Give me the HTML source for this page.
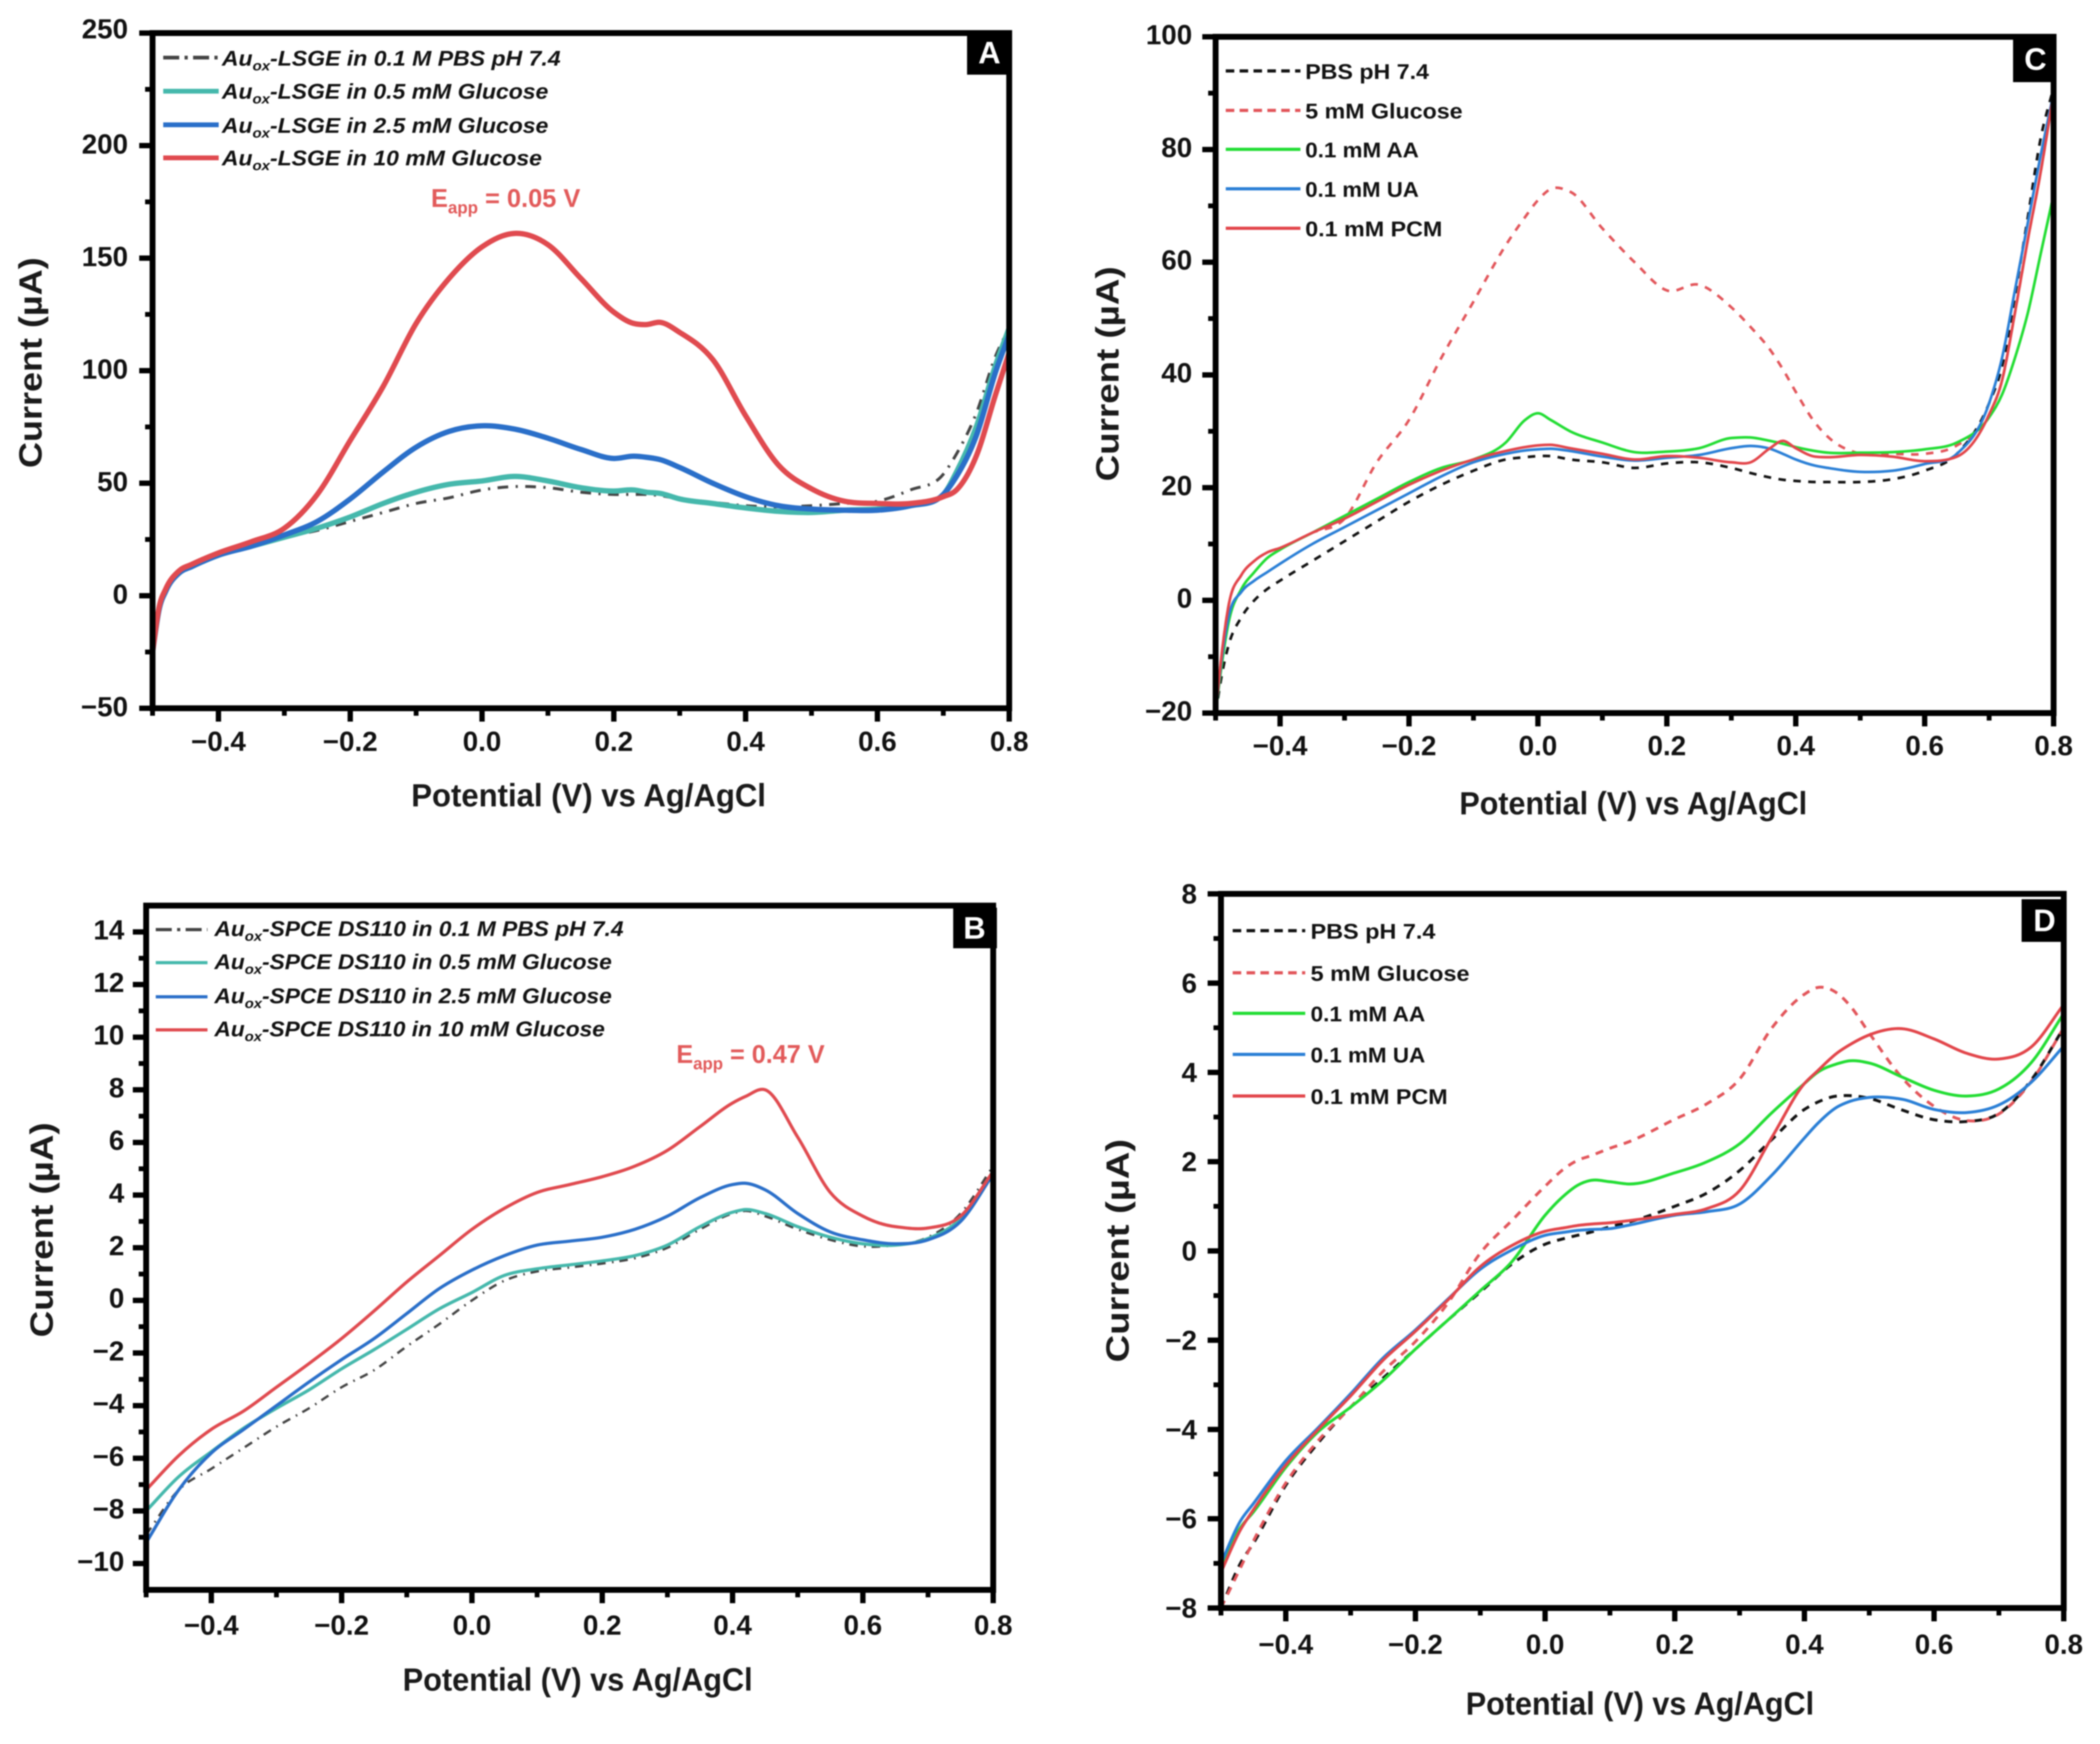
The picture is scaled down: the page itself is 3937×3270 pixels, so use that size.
<!DOCTYPE html>
<html lang="en">
<head>
<meta charset="utf-8">
<title>Electrochemical current vs potential panels A-D</title>
<style>
html,body{margin:0;padding:0;background:#fff;width:3937px;height:3270px;overflow:hidden}
svg{display:block;filter:blur(1.3px)}
text{font-family:"Liberation Sans",sans-serif;font-weight:bold;fill:#111}
.leg{font-size:40px}
.legi{font-size:40px;font-style:italic}
.axt{font-size:60px;fill:#1a1a1a}
.tick{font-size:52px;fill:#111}
.eapp{font-size:48px;fill:#e25a5a}
.pl{font-size:58px;fill:#fff;text-anchor:middle}
</style>
</head>
<body>
<svg id="figure" xmlns="http://www.w3.org/2000/svg" width="3937" height="3270" viewBox="0 0 3937 3270">
<rect width="3937" height="3270" fill="#fff"/>
<g id="plots"></g>

<g>
<text class="axt" transform="translate(78,680) rotate(-90)" text-anchor="middle" textLength="395" lengthAdjust="spacingAndGlyphs">Current (µA)</text>
<text class="axt" x="771" y="1512" textLength="665" lengthAdjust="spacingAndGlyphs">Potential (V) vs Ag/AgCl</text>
<line x1="306" x2="410" y1="108" y2="108" stroke="#444" stroke-width="7" stroke-dasharray="30 10 6 10"/>
<line x1="306" x2="410" y1="171" y2="171" stroke="#45b8ac" stroke-width="9"/>
<line x1="306" x2="410" y1="234" y2="234" stroke="#2a6fc9" stroke-width="9"/>
<line x1="306" x2="410" y1="296" y2="296" stroke="#e04a4f" stroke-width="9"/>
<text class="legi" x="416" y="123" textLength="635" lengthAdjust="spacingAndGlyphs">Au<tspan font-size="26" dy="9">ox</tspan><tspan dy="-9">-LSGE in 0.1 M PBS pH 7.4</tspan></text>
<text class="legi" x="416" y="185" textLength="612" lengthAdjust="spacingAndGlyphs">Au<tspan font-size="26" dy="9">ox</tspan><tspan dy="-9">-LSGE in 0.5 mM Glucose</tspan></text>
<text class="legi" x="416" y="249" textLength="612" lengthAdjust="spacingAndGlyphs">Au<tspan font-size="26" dy="9">ox</tspan><tspan dy="-9">-LSGE in 2.5 mM Glucose</tspan></text>
<text class="legi" x="416" y="310" textLength="600" lengthAdjust="spacingAndGlyphs">Au<tspan font-size="26" dy="9">ox</tspan><tspan dy="-9">-LSGE in 10 mM Glucose</tspan></text>
<text class="eapp" x="808" y="388" textLength="280" lengthAdjust="spacingAndGlyphs">E<tspan font-size="32" dy="12">app</tspan><tspan dy="-12"> = 0.05 V</tspan></text>
</g>

<g>
<text class="axt" transform="translate(99,2306) rotate(-90)" text-anchor="middle" textLength="403" lengthAdjust="spacingAndGlyphs">Current (µA)</text>
<text class="axt" x="755" y="3170" textLength="656" lengthAdjust="spacingAndGlyphs">Potential (V) vs Ag/AgCl</text>
<line x1="292" x2="389" y1="1743" y2="1743" stroke="#444" stroke-width="6" stroke-dasharray="30 10 6 10"/>
<line x1="292" x2="389" y1="1805" y2="1805" stroke="#45b8ac" stroke-width="6"/>
<line x1="292" x2="389" y1="1869" y2="1869" stroke="#2a6fc9" stroke-width="6"/>
<line x1="292" x2="389" y1="1931" y2="1931" stroke="#e04a4f" stroke-width="6"/>
<text class="legi" x="402" y="1755" textLength="767" lengthAdjust="spacingAndGlyphs">Au<tspan font-size="26" dy="9">ox</tspan><tspan dy="-9">-SPCE DS110 in 0.1 M PBS pH 7.4</tspan></text>
<text class="legi" x="402" y="1817" textLength="745" lengthAdjust="spacingAndGlyphs">Au<tspan font-size="26" dy="9">ox</tspan><tspan dy="-9">-SPCE DS110 in 0.5 mM Glucose</tspan></text>
<text class="legi" x="402" y="1881" textLength="745" lengthAdjust="spacingAndGlyphs">Au<tspan font-size="26" dy="9">ox</tspan><tspan dy="-9">-SPCE DS110 in 2.5 mM Glucose</tspan></text>
<text class="legi" x="402" y="1943" textLength="732" lengthAdjust="spacingAndGlyphs">Au<tspan font-size="26" dy="9">ox</tspan><tspan dy="-9">-SPCE DS110 in 10 mM Glucose</tspan></text>
<text class="eapp" x="1268" y="1993" textLength="278" lengthAdjust="spacingAndGlyphs">E<tspan font-size="32" dy="12">app</tspan><tspan dy="-12"> = 0.47 V</tspan></text>
</g>

<g>
<text class="axt" transform="translate(2097,701) rotate(-90)" text-anchor="middle" textLength="403" lengthAdjust="spacingAndGlyphs">Current (µA)</text>
<text class="axt" x="2736" y="1527" textLength="652" lengthAdjust="spacingAndGlyphs">Potential (V) vs Ag/AgCl</text>
<line x1="2298" x2="2438" y1="133" y2="133" stroke="#111" stroke-width="6" stroke-dasharray="16 10"/>
<line x1="2298" x2="2438" y1="207" y2="207" stroke="#e2555a" stroke-width="6" stroke-dasharray="16 10"/>
<line x1="2298" x2="2438" y1="280" y2="280" stroke="#22dd33" stroke-width="6"/>
<line x1="2298" x2="2438" y1="354" y2="354" stroke="#2a7fd6" stroke-width="6"/>
<line x1="2298" x2="2438" y1="428" y2="428" stroke="#e2454a" stroke-width="6"/>
<text class="leg" x="2447" y="148" textLength="232" lengthAdjust="spacingAndGlyphs">PBS pH 7.4</text>
<text class="leg" x="2447" y="222" textLength="295" lengthAdjust="spacingAndGlyphs">5 mM Glucose</text>
<text class="leg" x="2447" y="295" textLength="213" lengthAdjust="spacingAndGlyphs">0.1 mM AA</text>
<text class="leg" x="2447" y="369" textLength="213" lengthAdjust="spacingAndGlyphs">0.1 mM UA</text>
<text class="leg" x="2447" y="443" textLength="257" lengthAdjust="spacingAndGlyphs">0.1 mM PCM</text>
</g>

<g>
<text class="axt" transform="translate(2116,2345) rotate(-90)" text-anchor="middle" textLength="419" lengthAdjust="spacingAndGlyphs">Current (µA)</text>
<text class="axt" x="2748" y="3215" textLength="653" lengthAdjust="spacingAndGlyphs">Potential (V) vs Ag/AgCl</text>
<line x1="2311" x2="2447" y1="1745" y2="1745" stroke="#111" stroke-width="6" stroke-dasharray="16 10"/>
<line x1="2311" x2="2447" y1="1824" y2="1824" stroke="#e2555a" stroke-width="6" stroke-dasharray="16 10"/>
<line x1="2311" x2="2447" y1="1900" y2="1900" stroke="#22dd33" stroke-width="6"/>
<line x1="2311" x2="2447" y1="1977" y2="1977" stroke="#2a7fd6" stroke-width="6"/>
<line x1="2311" x2="2447" y1="2055" y2="2055" stroke="#e2454a" stroke-width="6"/>
<text class="leg" x="2457" y="1760" textLength="234" lengthAdjust="spacingAndGlyphs">PBS pH 7.4</text>
<text class="leg" x="2457" y="1839" textLength="298" lengthAdjust="spacingAndGlyphs">5 mM Glucose</text>
<text class="leg" x="2457" y="1915" textLength="215" lengthAdjust="spacingAndGlyphs">0.1 mM AA</text>
<text class="leg" x="2457" y="1992" textLength="215" lengthAdjust="spacingAndGlyphs">0.1 mM UA</text>
<text class="leg" x="2457" y="2070" textLength="257" lengthAdjust="spacingAndGlyphs">0.1 mM PCM</text>
</g>

<g>
<rect x="1813" y="62" width="80" height="78" fill="#000"/>
<text class="pl" x="1855" y="119">A</text>
<rect x="1787" y="1702" width="82" height="76" fill="#000"/>
<text class="pl" x="1827" y="1760">B</text>
<rect x="3774" y="70" width="76" height="84" fill="#000"/>
<text class="pl" x="3816" y="131">C</text>
<rect x="3790" y="1686" width="80" height="80" fill="#000"/>
<text class="pl" x="3833" y="1746">D</text>
</g>
</svg>

<script>
// ---------- Panel A data ----------
const potentialA = [-.5,-.49,-.48,-.46,-.44,-.4,-.35,-.3,-.25,-.2,-.15,-.1,-.05,0,.05,.1,.15,.2,.23,.25,.27,.3,.35,.4,.45,.5,.55,.6,.65,.7,.72,.75,.78,.8];
const a_pbs = [-25,-6,2,10,13,18,22,26,29,33,37,41,43.5,47,48.5,48,46,45,45,45,44.5,43,41.5,40,39.5,40,41,42,47,54,63,81,107,119];
const a_glu05 = [-25,-6,2,10,13,18,22,26,30,35,41,46,49.5,51,53,51,48,46.5,47,46,45.5,43,41,39,37.5,37,38,38.5,40,45,55,75,103,119];
const a_glu25 = [-25,-6,2,10,13,18,22,27,33,43,55,66,73,75.5,74,70,65,61,62,61.5,60.5,57,50,44,40,38.5,38,38,40,45,53,71,100,116];
const a_glu10 = [-25,-5,3,11,14,19,24,30,45,69,93,121,141,155,161,156,141,126,121,120.5,121.5,117,105,80,58,47.5,42,41,41,44,47,62,90,108];
const a_yTicks = [250,200,150,100,50,0,-50];

// ---------- Panel B data ----------
const potentialB = [-.5,-.45,-.4,-.35,-.3,-.25,-.2,-.15,-.1,-.05,0,.05,.1,.15,.2,.25,.3,.35,.4,.42,.45,.5,.55,.6,.65,.7,.75,.8];
const b_pbs = [-8.9,-7.2,-6.4,-5.6,-4.8,-4.1,-3.3,-2.65,-1.75,-.9,0,.75,1.1,1.25,1.4,1.6,2,2.7,3.3,3.4,3.2,2.7,2.3,2.05,2.1,2.4,3.3,5.1];
const b_glu05 = [-8,-6.7,-5.75,-4.85,-4.1,-3.4,-2.6,-1.87,-1.1,-.32,.3,.95,1.2,1.35,1.5,1.7,2.1,2.8,3.35,3.45,3.3,2.8,2.4,2.15,2.1,2.35,3.1,4.8];
const b_glu25 = [-9.2,-7.2,-5.8,-4.9,-4,-3.1,-2.25,-1.45,-.5,.45,1.15,1.7,2.1,2.25,2.4,2.7,3.2,3.9,4.4,4.45,4.2,3.3,2.6,2.3,2.15,2.3,3,4.8];
const b_glu10 = [-7.2,-5.9,-4.9,-4.2,-3.3,-2.4,-1.45,-.4,.7,1.7,2.7,3.5,4.1,4.4,4.7,5.1,5.7,6.6,7.5,7.75,8,6.2,4.1,3.2,2.8,2.75,3.2,4.9];
const b_yTicks = [14,12,10,8,6,4,2,0,-2,-4,-6,-8,-10];

// ---------- Panel C data ----------
const potentialC = [-.5,-.49,-.48,-.46,-.44,-.42,-.4,-.35,-.3,-.25,-.2,-.15,-.1,-.05,-.02,0,.02,.05,.1,.15,.2,.25,.3,.33,.36,.38,.4,.43,.45,.5,.55,.6,.65,.7,.72,.74,.76,.78,.8];
const c_pbs = [-20,-13,-8,-3,0,2,3.5,7,10.5,14,17.5,20.5,23,25,25.4,25.6,25.6,25,24.5,23.5,24.3,24.5,23.5,22.6,21.8,21.4,21.2,21,21,21,21.5,23,26,35,41.5,54,68,82,91];
const c_glucose = [-20,-9,-1,4.5,7,8.5,9.3,12,14.5,24.5,32,43,53,63,68,71,73,72.5,66,60,55,56,52,48.5,44.5,41,37,31.5,29,26,26,26,27.5,33,39,51,64,76,90];
const c_aa = [-20,-11,-4,2,5,7.5,9,12,15,18,21,23.5,25,28,32,33.2,32,30,28,26.3,26.4,27,28.8,28.9,28.3,27.8,27.2,26.5,26.2,26.2,26.3,26.8,28,32.5,36.5,43,51,61.5,72];
const c_ua = [-20,-10,-3,1.5,3.5,5,6.5,10,13,16,19,22,24.5,26,26.6,26.8,26.9,26.5,25.5,24.8,25.3,25.8,27,27.4,26.9,26,25,23.9,23.5,22.8,23,24.2,26,35,43,55,67,79,90];
const c_pcm = [-20,-9,-1,4.5,7,8.5,9.3,12,14.5,17.5,20.5,23,25,26.5,27.2,27.5,27.6,27,26,25,25.6,25.3,24.5,24.5,27,28.3,27,25.5,25.4,25.8,25.5,24.7,25.5,33,39,51,64,76,90];
const c_yTicks = [100,80,60,40,20,0,-20];

// ---------- Panel D data ----------
const potentialD = [-.5,-.47,-.45,-.4,-.35,-.3,-.25,-.2,-.15,-.1,-.05,0,.03,.05,.07,.1,.13,.2,.25,.3,.35,.4,.42,.45,.47,.5,.55,.6,.65,.7,.75,.8];
const d_pbs = [-8,-7,-6.55,-5.25,-4.3,-3.5,-2.85,-2.2,-1.55,-.92,-.28,.15,.28,.35,.42,.54,.65,1,1.3,1.8,2.5,3.17,3.33,3.47,3.48,3.42,3.16,2.94,2.9,3.08,3.83,5];
const d_glucose = [-8,-7.1,-6.5,-5.2,-4.25,-3.5,-2.7,-2.03,-1.17,-.05,.7,1.45,1.85,2.03,2.13,2.3,2.45,2.95,3.3,3.85,5,5.75,5.9,5.78,5.5,4.88,3.89,3.24,2.92,3.07,3.8,5];
const d_aa = [-7.05,-6.2,-5.85,-4.85,-4.05,-3.5,-2.9,-2.2,-1.55,-.89,-.22,.8,1.25,1.47,1.58,1.55,1.5,1.75,2,2.4,3.1,3.75,4,4.19,4.26,4.21,3.9,3.6,3.47,3.63,4.22,5.32];
const d_ua = [-7,-6.05,-5.66,-4.7,-3.96,-3.2,-2.4,-1.77,-1.08,-.41,.03,.35,.42,.46,.48,.5,.58,.8,.88,1.05,1.7,2.53,2.85,3.22,3.35,3.44,3.4,3.17,3.1,3.27,3.78,4.59];
const d_pcm = [-7.2,-6.25,-5.8,-4.8,-4,-3.25,-2.45,-1.8,-1.1,-.35,.13,.44,.52,.57,.6,.63,.68,.82,.95,1.35,2.55,3.75,4.03,4.43,4.62,4.84,4.98,4.75,4.43,4.3,4.57,5.52];
const d_yTicks = [8,6,4,2,0,-2,-4,-6,-8];

// ---------- Shared x ticks ----------
const xTickValues = [-0.4,-0.2,0,0.2,0.4,0.6,0.8];
const xTickLabels = ['\u22120.4','\u22120.2','0.0','0.2','0.4','0.6','0.8'];
const xMinorValues = [-0.5,-0.3,-0.1,0.1,0.3,0.5,0.7];

const SVG_NS = 'http://www.w3.org/2000/svg';
const plots = document.getElementById('plots');

function make(tag, attrs, parent) {
  const el = document.createElementNS(SVG_NS, tag);
  for (const k in attrs) el.setAttribute(k, attrs[k]);
  parent.appendChild(el);
  return el;
}

// Smooth cubic path: weighted tangents, limited so steep rises do not overshoot
function smoothPath(px, py) {
  const n = px.length, m = new Array(n), s = [];
  for (let i = 0; i < n - 1; i++) s.push((py[i + 1] - py[i]) / (px[i + 1] - px[i]));
  m[0] = s[0]; m[n - 1] = s[n - 2];
  for (let i = 1; i < n - 1; i++) {
    const h0 = px[i] - px[i - 1], h1 = px[i + 1] - px[i];
    let t = (s[i - 1] * h1 + s[i] * h0) / (h0 + h1);
    if (s[i - 1] * s[i] > 0) {
      const lim = 3 * Math.min(Math.abs(s[i - 1]), Math.abs(s[i]));
      if (Math.abs(t) > lim) t = Math.sign(t) * lim;
    }
    m[i] = t;
  }
  let d = 'M' + px[0].toFixed(1) + ' ' + py[0].toFixed(1);
  for (let i = 0; i < n - 1; i++) {
    const h = (px[i + 1] - px[i]) / 3;
    d += 'C' + (px[i] + h).toFixed(1) + ' ' + (py[i] + m[i] * h).toFixed(1) + ' ' +
      (px[i + 1] - h).toFixed(1) + ' ' + (py[i + 1] - m[i + 1] * h).toFixed(1) + ' ' +
      px[i + 1].toFixed(1) + ' ' + py[i + 1].toFixed(1);
  }
  return d;
}

function drawPanel(cfg) {
  const g = make('g', {}, plots);
  
  

  const xScale = v => cfg.left + (v - (-0.5)) / 1.3 * (cfg.right - cfg.left);
  const yScale = v => cfg.bottom - (v - cfg.yMin) / (cfg.yMax - cfg.yMin) * (cfg.bottom - cfg.top);

  // Series
  cfg.series.forEach(s => {
    const path = make('path', {
      d: smoothPath(cfg.xs.map(xScale), s.values.map(yScale)),
      fill: 'none', stroke: s.color, 'stroke-width': s.width,
      'stroke-linejoin': 'round'
    }, g);
    if (s.dash) path.setAttribute('stroke-dasharray', s.dash);
    
    
  });

  // Frame
  const frame = make('rect', {
    x: cfg.left, y: cfg.top, width: cfg.right - cfg.left, height: cfg.bottom - cfg.top,
    fill: 'none', stroke: '#000', 'stroke-width': 11
  }, g);
  
  

  // Y ticks, labels and minor ticks
  cfg.yTicks.forEach((v, i) => {
    const y = yScale(v);
    const t = make('line', { x1: cfg.left - 25, x2: cfg.left, y1: y, y2: y, stroke: '#000', 'stroke-width': 10 }, g);
    
    
    const shift = i === 0 ? cfg.topLabelShift : 0;
    const lab = make('text', { x: cfg.labelRight, y: y + cfg.labelDy + shift, 'text-anchor': 'end', class: 'tick' }, g);
    lab.textContent = String(v).replace('-', '\u2212');
    
    
    const next = cfg.yTicks[i + 1];
    if (next !== undefined) {
      const ym = yScale((v + next) / 2);
      const mt = make('line', { x1: cfg.left - 14, x2: cfg.left, y1: ym, y2: ym, stroke: '#000', 'stroke-width': 9 }, g);
      
      
    }
  });

  // X ticks and labels
  xTickValues.forEach((v, i) => {
    const x = xScale(v);
    const t = make('line', { x1: x, x2: x, y1: cfg.bottom, y2: cfg.bottom + 25, stroke: '#000', 'stroke-width': 10 }, g);
    
    
    const lab = make('text', { x: x, y: cfg.xLabelY, 'text-anchor': 'middle', class: 'tick' }, g);
    lab.textContent = xTickLabels[i];
    
    
  });
  xMinorValues.forEach(v => {
    const x = xScale(v);
    const t = make('line', { x1: x, x2: x, y1: cfg.bottom, y2: cfg.bottom + 14, stroke: '#000', 'stroke-width': 9 }, g);
    
    
  });
}

const BLK = '#444', TEAL = '#45b8ac', BLUE = '#2a6fc9', RED = '#e04a4f';
const KD = '#111', RD = '#e2555a', GRN = '#22dd33', BL2 = '#2a7fd6', RD2 = '#e2454a';

drawPanel({
  id: 'a', left: 286, right: 1892, top: 62, bottom: 1328, yMin: -50, yMax: 250,
  labelRight: 240, labelDy: 15, topLabelShift: -5, xLabelY: 1408, xs: potentialA, yTicks: a_yTicks,
  series: [
    { name: 'pbs', values: a_pbs, color: BLK, width: 5.5, dash: '20 14 4 14' },
    { name: 'glucose-0-5mm', values: a_glu05, color: TEAL, width: 10 },
    { name: 'glucose-2-5mm', values: a_glu25, color: BLUE, width: 10 },
    { name: 'glucose-10mm', values: a_glu10, color: RED, width: 10 }
  ]
});
drawPanel({
  id: 'b', left: 274, right: 1862, top: 1698, bottom: 2981, yMin: -11, yMax: 15,
  labelRight: 233, labelDy: 14, topLabelShift: 0, xLabelY: 3065, xs: potentialB, yTicks: b_yTicks,
  series: [
    { name: 'pbs', values: b_pbs, color: BLK, width: 4.5, dash: '16 12 3 11' },
    { name: 'glucose-0-5mm', values: b_glu05, color: TEAL, width: 6 },
    { name: 'glucose-2-5mm', values: b_glu25, color: BLUE, width: 6 },
    { name: 'glucose-10mm', values: b_glu10, color: RED, width: 6 }
  ]
});
drawPanel({
  id: 'c', left: 2279, right: 3850, top: 69, bottom: 1337, yMin: -20, yMax: 100,
  labelRight: 2235, labelDy: 14, topLabelShift: 0, xLabelY: 1416, xs: potentialC, yTicks: c_yTicks,
  series: [
    { name: 'pbs', values: c_pbs, color: KD, width: 5, dash: '14 14' },
    { name: 'glucose', values: c_glucose, color: RD, width: 5, dash: '14 14' },
    { name: 'aa', values: c_aa, color: GRN, width: 5 },
    { name: 'ua', values: c_ua, color: BL2, width: 5 },
    { name: 'pcm', values: c_pcm, color: RD2, width: 5 }
  ]
});
drawPanel({
  id: 'd', left: 2289, right: 3869, top: 1676, bottom: 3015, yMin: -8, yMax: 8,
  labelRight: 2244, labelDy: 18, topLabelShift: 0, xLabelY: 3101, xs: potentialD, yTicks: d_yTicks,
  series: [
    { name: 'pbs', values: d_pbs, color: KD, width: 5.5, dash: '15 13' },
    { name: 'glucose', values: d_glucose, color: RD, width: 5.5, dash: '15 13' },
    { name: 'aa', values: d_aa, color: GRN, width: 5.5 },
    { name: 'ua', values: d_ua, color: BL2, width: 5.5 },
    { name: 'pcm', values: d_pcm, color: RD2, width: 5.5 }
  ]
});
</script>
</body>
</html>
